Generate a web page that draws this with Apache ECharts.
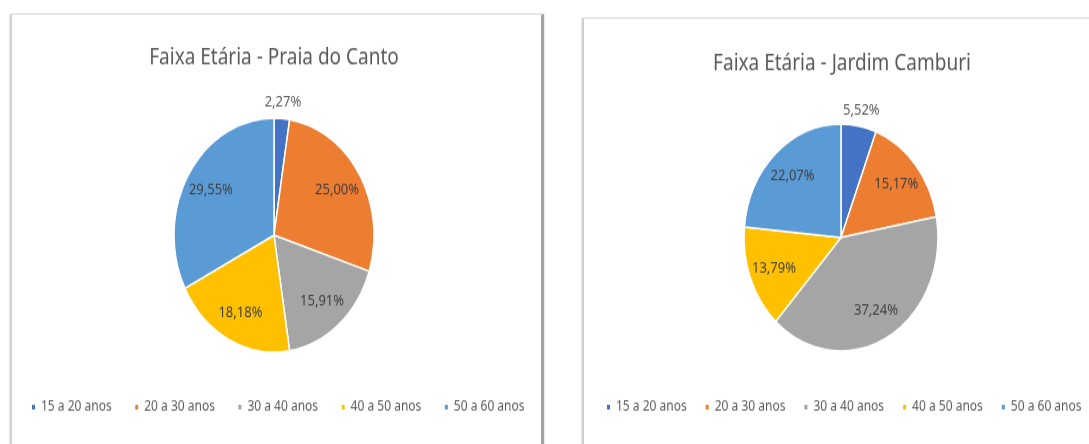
<!DOCTYPE html>
<html lang="pt">

<head>
    <meta charset="UTF-8">
    <title>Faixa Etária</title>
    <script src="https://cdn.jsdelivr.net/npm/echarts@6/dist/echarts.min.js"></script>
    <style>
        body,
        html {
            padding: 0;
            margin: 0;
            background: #fff;
        }

        .painel {
            position: absolute;
            background: #fff;
            border-top: 1px solid #e2e2e2;
            border-left: 2px solid #cfcfcf;
            border-right: 3px solid #a3a3a3;
            box-shadow: 0 0 2px rgba(0, 0, 0, 0.25);
        }
    </style>
</head>

<body>
    <div class="painel" style="left:10px;top:14px;width:529px;height:440px;"></div>
    <div class="painel" style="left:582px;top:18px;width:520px;height:440px;"></div>
    <!-- the original screenshot is stretched vertically, so the chart is too -->
    <div id="chart" style="position:absolute;left:0;top:0;width:1089px;height:380px;transform:scaleY(1.17);transform-origin:0 0;"></div>
    <script>
        var faixas = ['15 a 20 anos', '20 a 30 anos', '30 a 40 anos', '40 a 50 anos', '50 a 60 anos'];
        var praiaDoCanto = [2.27, 25.00, 15.91, 18.18, 29.55];
        var jardimCamburi = [5.52, 15.17, 37.24, 13.79, 22.07];
        var cores = ['#4472C4', '#ED7D31', '#A5A5A5', '#FFC000', '#5B9BD5'];

        var fonte = '"Noto Sans", sans-serif';

        function fmt(v) {
            return v.toFixed(2).replace('.', ',') + '%';
        }

        // visible pie + two invisible rings that only carry the labels
        function pizza(valores, centro, r) {
            var data = faixas.map(function (f, i) {
                return { name: f, value: valores[i] };
            });
            var base = {
                type: 'pie',
                center: centro,
                startAngle: 90,
                clockwise: true,
                avoidLabelOverlap: false,
                labelLine: { show: false },
                emphasis: { disabled: true }
            };
            return [
                Object.assign({}, base, {
                    radius: r,
                    color: cores,
                    itemStyle: { borderColor: '#fff', borderWidth: 1.5 },
                    label: { show: false },
                    data: data
                }),
                Object.assign({}, base, {
                    radius: [r * 0.42, r],
                    silent: true,
                    itemStyle: { color: 'rgba(0,0,0,0)', borderWidth: 0 },
                    label: {
                        position: 'inside',
                        color: '#404040',
                        fontSize: 13,
                        fontFamily: fonte,
                        formatter: function (p) { return fmt(p.value); }
                    },
                    data: data.map(function (d, i) {
                        return { name: d.name, value: d.value, label: { show: i > 0 } };
                    })
                }),
                Object.assign({}, base, {
                    radius: [r, r * 1.22],
                    silent: true,
                    itemStyle: { color: 'rgba(0,0,0,0)', borderWidth: 0 },
                    label: {
                        position: 'inside',
                        color: '#595959',
                        fontSize: 13,
                        fontFamily: fonte,
                        formatter: function (p) { return fmt(p.value); }
                    },
                    data: data.map(function (d, i) {
                        return { name: d.name, value: d.value, label: { show: i === 0 } };
                    })
                })
            ];
        }

        function legenda(left, gap) {
            return {
                left: left,
                top: 342,
                width: 600,
                padding: 0,
                icon: 'rect',
                itemWidth: 5,
                itemHeight: 6,
                itemGap: gap,
                selectedMode: false,
                data: faixas,
                textStyle: { color: '#595959', fontSize: 12, fontFamily: fonte }
            };
        }

        var myChart = echarts.init(document.getElementById('chart'));
        myChart.setOption({
            animation: false,
            title: [{
                text: 'Faixa Etária - Praia do Canto',
                left: 274,
                textAlign: 'center',
                top: 40,
                padding: 0,
                textStyle: { color: '#595959', fontSize: 19, fontWeight: 'normal', fontFamily: fonte }
            }, {
                text: 'Faixa Etária - Jardim Camburi',
                left: 842,
                textAlign: 'center',
                top: 45,
                padding: 0,
                textStyle: { color: '#595959', fontSize: 19, fontWeight: 'normal', fontFamily: fonte }
            }],
            legend: [legenda(30, 21.5), legenda(605, 17)],
            series: pizza(praiaDoCanto, [274, 201], 100).concat(pizza(jardimCamburi, [841, 203], 97))
        });
    </script>
</body>

</html>
